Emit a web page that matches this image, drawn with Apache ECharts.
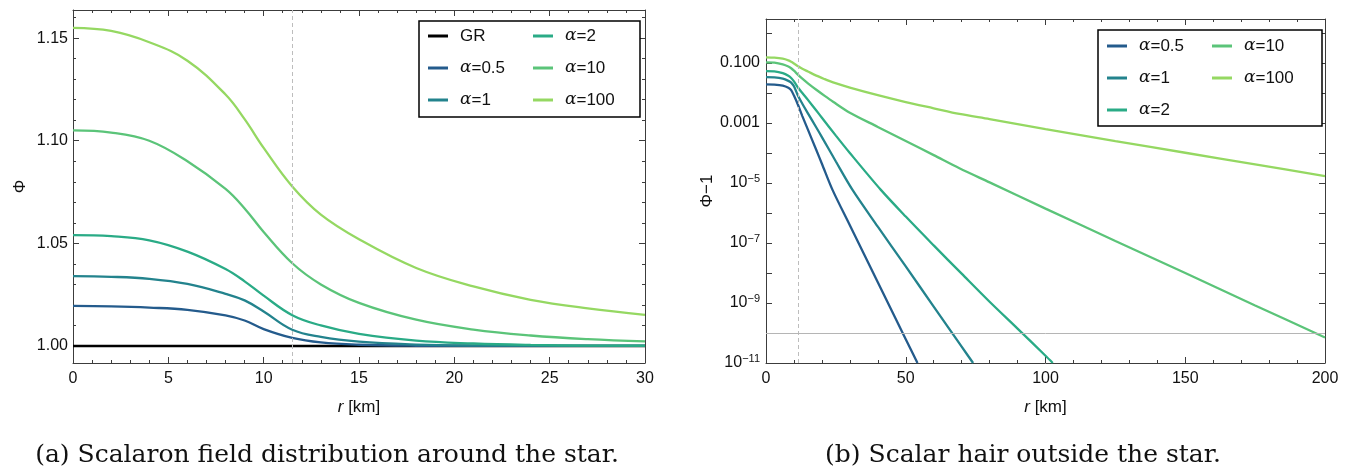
<!DOCTYPE html>
<html>
<head>
<meta charset="utf-8">
<script src="https://cdn.jsdelivr.net/npm/echarts@6/dist/echarts.min.js"></script>
<style>
  html, body { margin: 0; padding: 0; background: #fff; }
  #main { width: 1348px; height: 473px; }
</style>
</head>
<body>
<div id="main"></div>
<script>
// ============================
// 1. 数据
// ============================

// (a) Φ(r), r 单位 km
const rIn = [0, 2, 4, 6, 8, 9, 10, 11.5, 13, 15, 18, 21, 24, 27, 30];
const phiGR = [1, 1, 1, 1, 1, 1, 1, 1, 1, 1, 1, 1, 1, 1, 1];
const phi05 = [1.0195, 1.0193, 1.0187, 1.0176, 1.0149, 1.0124, 1.0082, 1.0039, 1.0017, 1.0006, 1.0001, 1.0000, 1.0000, 1.0000, 1.0000];
const phi1 = [1.034, 1.0337, 1.0327, 1.0302, 1.0254, 1.0222, 1.0168, 1.0079, 1.0044, 1.0021, 1.0007, 1.0002, 1.0001, 1.0000, 1.0000];
const phi2 = [1.054, 1.0535, 1.0515, 1.046, 1.0375, 1.0315, 1.0245, 1.015, 1.010, 1.0059, 1.0026, 1.0012, 1.0005, 1.0002, 1.0001];
const phi10 = [1.105, 1.104, 1.100, 1.090, 1.0765, 1.067, 1.0555, 1.0403, 1.030, 1.021, 1.0128, 1.008, 1.0051, 1.0033, 1.0022];
const phi100 = [1.155, 1.1535, 1.148, 1.139, 1.1225, 1.1105, 1.0965, 1.0777, 1.064, 1.052, 1.038, 1.029, 1.0225, 1.0183, 1.0152];

// (b) Φ-1 (对数坐标), [r, 值]
const hair05 = [[0, 0.0195], [3, 0.0191], [6, 0.0176], [8, 0.0149], [9, 0.0124], [10, 0.0082], [11.5, 0.0039], [13, 0.0017], [15, 6e-4], [18, 1.26e-4], [20, 4.4e-5], [23.8, 5.9e-6], [30, 3.9e-7], [40, 4.9e-9], [50, 6.2e-11], [54.2, 1e-11]];
const hair1 = [[0, 0.034], [3, 0.0334], [6, 0.0302], [8, 0.0254], [9, 0.0222], [10, 0.0168], [11.5, 0.0079], [13, 0.0044], [15, 0.0021], [18, 7.1e-4], [20, 3.4e-4], [25, 5.2e-5], [30.9, 6e-6], [40, 3.5e-7], [50, 1.66e-8], [60, 7.6e-10], [70, 3.5e-11], [74.1, 1e-11]];
const hair2 = [[0, 0.054], [3, 0.0528], [6, 0.046], [8, 0.0375], [9, 0.0315], [10, 0.0245], [11.5, 0.015], [13, 0.010], [15, 0.0059], [18, 0.0026], [20, 0.0015], [25, 3.8e-4], [30, 1e-4], [41.1, 5.9e-6], [50, 7.6e-7], [60, 8.3e-8], [70, 9.5e-9], [80, 1.1e-9], [90, 1.4e-10], [100, 1.74e-11], [102.6, 1e-11]];
const hair10 = [[0, 0.105], [3, 0.1025], [6, 0.090], [8, 0.0765], [9, 0.067], [10, 0.0555], [11.5, 0.0403], [13, 0.030], [15, 0.021], [18, 0.0128], [21, 0.008], [24, 0.0051], [30, 0.0022], [40, 7.4e-4], [50, 2.5e-4], [60, 8.5e-5], [69.2, 3.1e-5], [80, 1.05e-5], [100, 1.4e-6], [125, 1.17e-7], [150, 1e-8], [175, 8.3e-10], [200, 7.1e-11]];
const hair100 = [[0, 0.155], [3, 0.151], [6, 0.139], [8, 0.1225], [9, 0.1105], [10, 0.0965], [11.5, 0.0777], [13, 0.064], [15, 0.052], [18, 0.038], [21, 0.029], [24, 0.0225], [30, 0.0152], [40, 0.0085], [50, 0.005], [60, 0.0031], [69.2, 0.002], [80, 0.00135], [100, 6.3e-4], [125, 2.5e-4], [150, 1.02e-4], [175, 4.2e-5], [200, 1.7e-5]];

const starRadius = 11.5;   // 竖直虚线
const hairFloor = 1e-10;   // 水平灰线

const names = ['GR', 'α=0.5', 'α=1', 'α=2', 'α=10', 'α=100'];
const colors = ['#000000', '#245b8c', '#23838d', '#2aab86', '#5bc479', '#95d862'];

// ============================
// 2. 样式
// ============================
const frameColor = '#3c3c3c';
const labelFont = { fontFamily: 'Liberation Sans', fontSize: 16, color: '#111' };

function frameAxis(extra) {
    return Object.assign({
        type: 'value',
        axisLine: { show: true, onZero: false, lineStyle: { color: frameColor, width: 1 } },
        axisTick: { show: true, inside: true, length: 6, lineStyle: { color: frameColor } },
        minorTick: { show: true, splitNumber: 5, length: 3, lineStyle: { color: frameColor } },
        splitLine: { show: false },
        minorSplitLine: { show: false },
        axisLabel: Object.assign({ show: true, margin: 8 }, labelFont)
    }, extra);
}

function legendText(name) {
    if (name === 'GR') return '{t|GR}';
    return '{a|α}{t|' + name.slice(1) + '}';
}

const legendRich = {
    a: { fontFamily: 'DejaVu Serif', fontStyle: 'italic', fontSize: 17, color: '#111' },
    t: { fontFamily: 'Liberation Sans', fontSize: 17, color: '#111' }
};

function logLabel(v) {
    const e = Math.round(Math.log10(v));
    if (e % 2 === 0) return '';
    if (e === -1) return '0.100';
    if (e === -3) return '0.001';
    return '{b|10}{s|−' + (-e) + '}';
}

const xName = {
    name: '{i|r} [km]',
    nameLocation: 'middle',
    nameGap: 36,
    nameTextStyle: {
        fontFamily: 'Liberation Sans', fontSize: 17, color: '#111',
        rich: { i: { fontFamily: 'Liberation Sans', fontStyle: 'italic', fontSize: 17, color: '#111' } }
    }
};

const vLine = { xAxis: starRadius, lineStyle: { color: '#bdbdbd', type: [4, 3], width: 1 } };
const hLine = [
    { coord: [0, hairFloor], lineStyle: { color: '#b5b5b5', type: 'solid', width: 1 } },
    { coord: [200, hairFloor] }
];

// ============================
// 3. 图表
// ============================
const chart = echarts.init(document.getElementById('main'));

const leftSeries = [phiGR, phi05, phi1, phi2, phi10, phi100].map((arr, i) => ({
    name: names[i],
    type: 'line',
    xAxisIndex: 0,
    yAxisIndex: 0,
    data: rIn.map((r, k) => [r, arr[k]]),
    smooth: 0.4,
    showSymbol: false,
    color: colors[i],
    lineStyle: { color: colors[i], width: i === 0 ? 2.5 : 2.3 },
    markLine: i === 0 ? {
        silent: true, symbol: 'none', label: { show: false }, animation: false,
        data: [vLine]
    } : undefined
}));

const rightSeries = [hair05, hair1, hair2, hair10, hair100].map((arr, i) => ({
    name: names[i + 1],
    type: 'line',
    xAxisIndex: 2,
    yAxisIndex: 2,
    data: arr,
    smooth: 0.3,
    showSymbol: false,
    color: colors[i + 1],
    lineStyle: { color: colors[i + 1], width: 2.3 },
    markLine: i === 0 ? {
        silent: true, symbol: 'none', label: { show: false }, animation: false,
        data: [vLine, hLine]
    } : undefined
}));

chart.setOption({
    animation: false,
    textStyle: { fontFamily: 'Liberation Sans' },
    grid: [
        { left: 73, top: 10, width: 572, height: 353, outerBoundsMode: 'none' },
        { left: 766, top: 19, width: 559, height: 344, outerBoundsMode: 'none' }
    ],
    xAxis: [
        frameAxis(Object.assign({ gridIndex: 0, min: 0, max: 30, interval: 5, position: 'bottom' }, xName)),
        frameAxis({ gridIndex: 0, min: 0, max: 30, interval: 5, position: 'top', axisLabel: { show: false } }),
        frameAxis(Object.assign({ gridIndex: 1, min: 0, max: 200, interval: 50, position: 'bottom' }, xName)),
        frameAxis({ gridIndex: 1, min: 0, max: 200, interval: 50, position: 'top', axisLabel: { show: false } })
    ],
    yAxis: [
        frameAxis({
            gridIndex: 0, min: 0.9917, max: 1.1637, splitNumber: 3, position: 'left',
            name: 'Φ', nameLocation: 'middle', nameGap: 44,
            nameTextStyle: { fontFamily: 'Liberation Sans', fontSize: 17, color: '#111' },
            axisLabel: Object.assign({ margin: 5, showMinLabel: false, showMaxLabel: false,
                formatter: v => v.toFixed(2) }, labelFont)
        }),
        frameAxis({ gridIndex: 0, min: 0.9917, max: 1.1637, splitNumber: 3, position: 'right', axisLabel: { show: false } }),
        frameAxis({
            gridIndex: 1, type: 'log', logBase: 10, min: 1e-11, max: 2.93, interval: 1, position: 'left',
            minorTick: { show: false },
            name: 'Φ−1', nameLocation: 'middle', nameGap: 45,
            nameTextStyle: { fontFamily: 'Liberation Sans', fontSize: 17, color: '#111' },
            axisLabel: Object.assign({ margin: 6, showMaxLabel: false, formatter: logLabel,
                rich: {
                    b: { fontFamily: 'Liberation Sans', fontSize: 16, color: '#111', lineHeight: 20 },
                    s: { fontFamily: 'Liberation Sans', fontSize: 11, color: '#111', verticalAlign: 'top', lineHeight: 12 }
                } }, labelFont)
        }),
        frameAxis({ gridIndex: 1, type: 'log', logBase: 10, min: 1e-11, max: 2.93, interval: 1, position: 'right',
            minorTick: { show: false }, axisLabel: { show: false } })
    ],
    legend: [
        {
            data: names.slice(),
            orient: 'vertical', left: 419, top: 21, height: 90,
            padding: [5, 14, 7, 9], itemGap: 12, itemWidth: 20, itemHeight: 3, icon: 'rect',
            borderColor: '#000', borderWidth: 1.5, backgroundColor: '#fff',
            formatter: legendText,
            textStyle: { width: 61, padding: [0, 0, 0, 7], lineHeight: 20, rich: legendRich }
        },
        {
            data: names.slice(1),
            orient: 'vertical', left: 1098, top: 30, height: 90,
            padding: [6, 17, 6, 9], itemGap: 12, itemWidth: 20, itemHeight: 3, icon: 'rect',
            borderColor: '#000', borderWidth: 1.5, backgroundColor: '#fff',
            formatter: legendText,
            textStyle: { width: 61, padding: [0, 0, 0, 7], lineHeight: 20, rich: legendRich }
        }
    ],
    graphic: [
        { type: 'text', x: 327, y: 455, style: { text: '(a) Scalaron field distribution around the star.',
            align: 'center', verticalAlign: 'middle', fontFamily: 'DejaVu Serif', fontSize: 25, fill: '#111' } },
        { type: 'text', x: 1023, y: 455, style: { text: '(b) Scalar hair outside the star.',
            align: 'center', verticalAlign: 'middle', fontFamily: 'DejaVu Serif', fontSize: 25, fill: '#111' } }
    ],
    series: leftSeries.concat(rightSeries)
});
</script>
</body>
</html>
